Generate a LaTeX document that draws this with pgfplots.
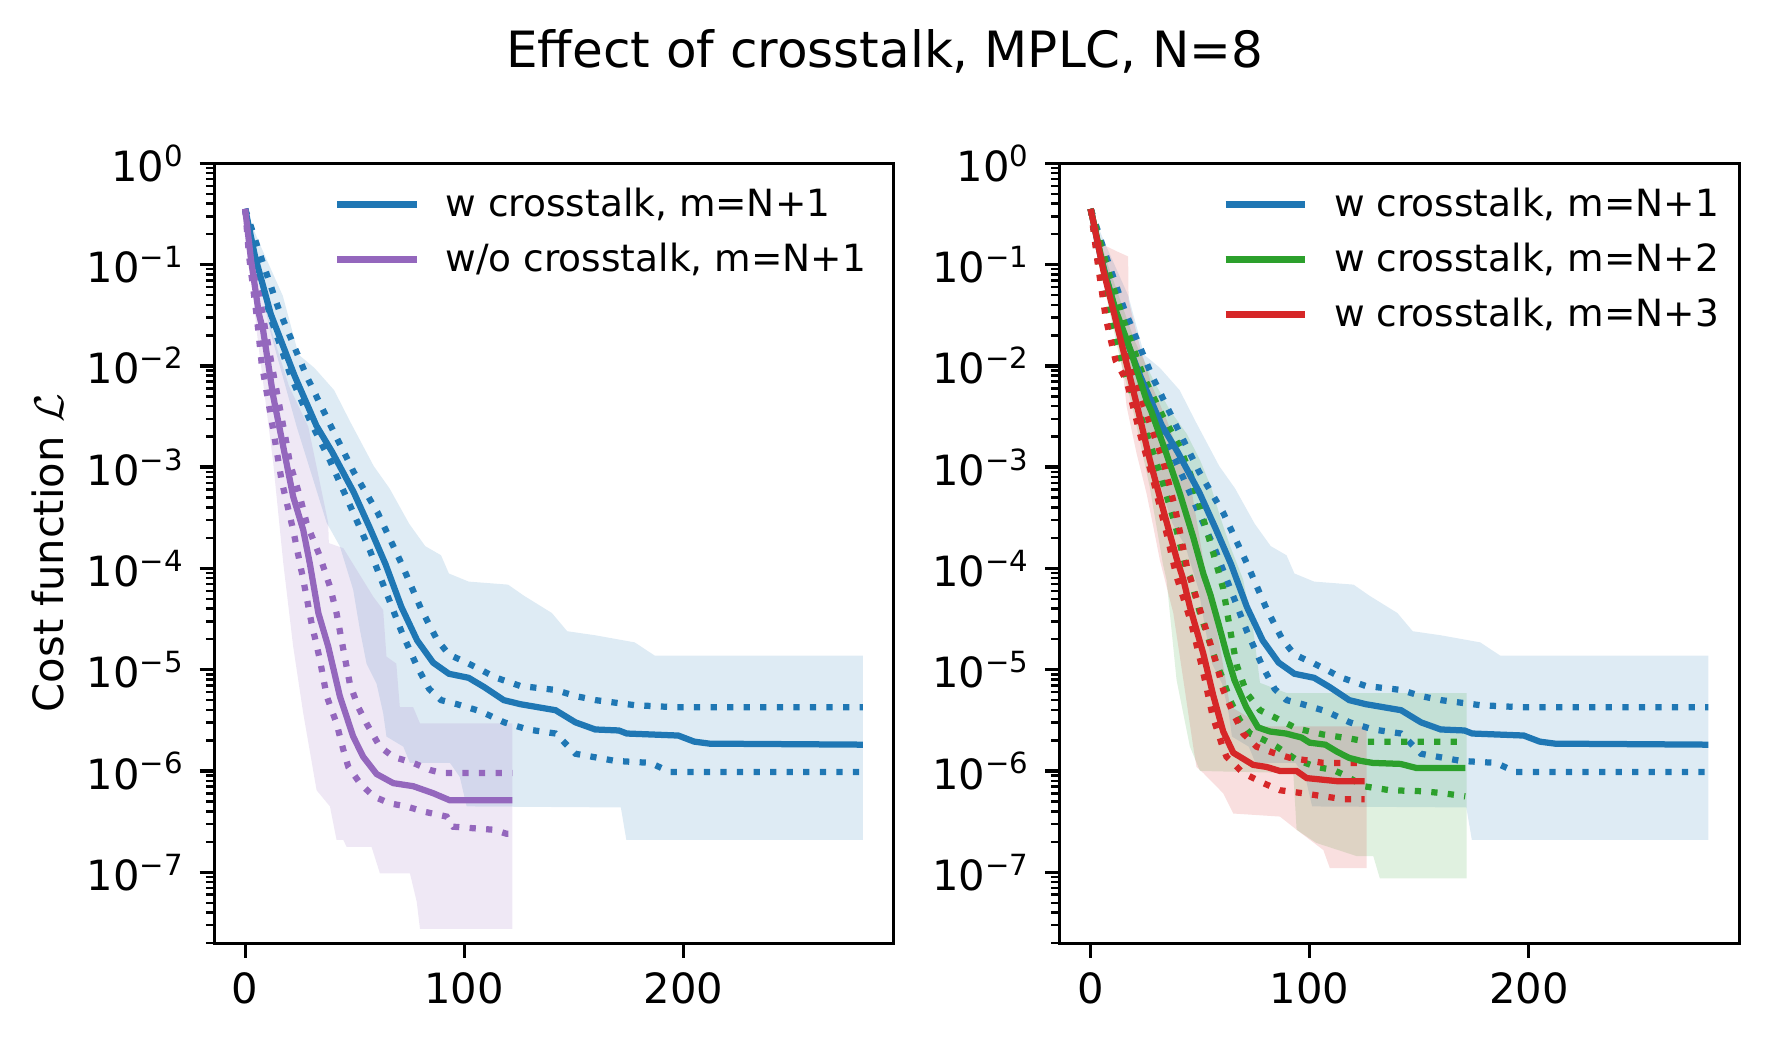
\documentclass[border=0pt]{standalone}
\usepackage{pgfplots}
\pgfplotsset{compat=1.18}
\usepackage{pgfplotstable}
\usepackage{fontspec}
\setmainfont{DejaVu Sans}
\definecolor{cB}{HTML}{1F77B4}
\definecolor{cG}{HTML}{2CA02C}
\definecolor{cR}{HTML}{D62728}
\definecolor{cP}{HTML}{9467BD}
\newcommand{\tfont}{\fontsize{10bp}{12bp}\selectfont}
\newcommand{\lfont}{\fontsize{9bp}{11bp}\selectfont}
\tikzset{
  med/.style={line width=1.5bp},
  dot/.style={line width=1.5bp, dash pattern=on 1.5bp off 2.475bp},
  band/.style={draw=none, fill opacity=0.15},
}

\begin{document}
% ---------- blue: w crosstalk, m=N+1 ----------
\pgfplotstableread{
x l
0 -0.45
4.5 -0.92
11.7 -1.49
22.6 -2.10
32.5 -2.59
39.7 -2.85
49.6 -3.25
56.9 -3.60
64.1 -3.96
71.3 -4.38
78.5 -4.71
85.8 -4.93
93 -5.04
102 -5.08
109 -5.17
118 -5.30
125.5 -5.34
141.7 -5.40
150.8 -5.52
159.8 -5.59
170.6 -5.60
174.2 -5.63
197.7 -5.65
205 -5.71
212 -5.73
282 -5.74
}\bmed
\pgfplotstableread{
x l
0 -0.45
6.3 -0.87
15.3 -1.44
28 -2.10
38.8 -2.58
49.6 -3.05
60.5 -3.45
71.3 -3.95
80.3 -4.40
87.5 -4.70
93 -4.85
102 -4.94
114.7 -5.08
125.5 -5.16
141.7 -5.20
150.8 -5.26
159.8 -5.30
177.8 -5.35
195.9 -5.37
282 -5.37
}\bup
\pgfplotstableread{
x l
0 -0.45
3.6 -0.87
11.7 -1.53
20.8 -2.10
29.8 -2.55
38.8 -2.94
47.9 -3.38
56.9 -3.82
64.1 -4.22
71.3 -4.62
78.5 -4.97
84 -5.19
89.4 -5.30
96.6 -5.34
107.4 -5.41
118.3 -5.52
129 -5.59
141.7 -5.63
150.8 -5.83
168.8 -5.90
185 -5.92
194 -6.01
282 -6.01
}\blo
\pgfplotstableread{
x l
0 -0.45
6.3 -0.78
17.2 -1.31
24.4 -1.89
31.6 -2.02
40.6 -2.24
47.9 -2.55
58.7 -2.99
65.9 -3.21
74.9 -3.56
82.2 -3.78
89.4 -3.87
93 -4.05
102 -4.13
120 -4.16
127.3 -4.27
140 -4.44
147 -4.62
159.8 -4.66
177.8 -4.73
186.9 -4.86
282 -4.86
282 -6.68
174 -6.68
171.5 -6.36
101.1 -6.35
98 -6.06
93.5 -5.92
75.2 -5.92
72.2 -5.76
64.5 -5.66
63 -5.43
60 -5.14
55.4 -4.94
52.4 -4.61
49.3 -4.21
43.2 -3.78
37.2 -3.55
23.5 -2.60
11.3 -1.65
4 -0.90
0 -0.45
}\bband
% ---------- purple: w/o crosstalk, m=N+1 ----------
\pgfplotstableread{
x l
0 -0.45
2.7 -0.96
6.3 -1.49
8.2 -1.65
12.8 -2.30
17.4 -2.80
21.9 -3.29
26.5 -3.62
29.5 -3.95
33.4 -4.44
37.9 -4.77
43.2 -5.26
49.3 -5.66
53.9 -5.86
60 -6.03
67.6 -6.12
76.7 -6.15
85.9 -6.22
93.5 -6.29
122 -6.29
}\pmed
\pgfplotstableread{
x l
0 -0.45
3.6 -0.96
9 -1.62
13.5 -2.15
18.9 -2.77
20.4 -2.96
25 -3.29
28 -3.55
34.1 -3.88
38.7 -4.18
41.7 -4.44
44.8 -4.80
47.8 -5.14
51.6 -5.37
55.4 -5.53
61.5 -5.76
67.6 -5.86
76.7 -5.92
84.3 -5.99
90 -6.02
122 -6.02
}\pup
\pgfplotstableread{
x l
0 -0.45
1.8 -0.92
5.4 -1.53
7.5 -1.97
12.8 -2.63
16.6 -3.13
21.9 -3.62
26.5 -4.11
30.3 -4.54
34.1 -4.90
37.2 -5.26
41.7 -5.53
44.8 -5.79
47.1 -5.96
52.4 -6.12
58.5 -6.25
66.1 -6.32
73.7 -6.35
81.3 -6.40
92 -6.45
95 -6.55
113.3 -6.58
119.4 -6.62
122 -6.62
}\plo
\pgfplotstableread{
x l
0 -0.45
3 -0.80
7 -1.20
12 -1.65
20 -2.20
28.8 -2.60
37.9 -3.55
38.2 -3.75
44.8 -3.80
58.5 -4.28
63 -4.41
64.5 -4.87
69 -4.94
70.6 -5.37
76.7 -5.37
79.8 -5.53
122 -5.53
122 -7.56
79.8 -7.56
78.3 -7.29
75.2 -7.01
61.5 -7.01
57.7 -6.75
46.3 -6.75
44.8 -6.68
41.7 -6.68
38.7 -6.35
32.6 -6.19
26.5 -5.43
21.9 -4.77
17.4 -3.95
12.8 -2.96
5.2 -1.65
0 -0.45
}\pband
% ---------- green: w crosstalk, m=N+2 ----------
\pgfplotstableread{
x l
0 -0.45
6 -1.05
11.4 -1.45
16.4 -1.74
18.7 -1.88
25.5 -2.34
27.7 -2.45
34.6 -2.87
40.7 -3.26
46.8 -3.69
51.4 -4.05
54.8 -4.27
58.4 -4.55
62 -4.84
65.6 -5.10
71 -5.37
76.4 -5.57
81.8 -5.61
89.1 -5.63
96.3 -5.67
99.9 -5.72
107.1 -5.74
112.5 -5.81
117.9 -5.87
123.3 -5.90
128.7 -5.92
141.4 -5.93
148.6 -5.97
171 -5.97
}\gmed
\pgfplotstableread{
x l
0 -0.45
7.8 -1.05
15 -1.55
24 -2.10
33 -2.50
40.7 -2.80
46 -3.10
49.9 -3.40
56 -3.85
60.5 -4.20
63.6 -4.60
66.6 -4.95
71.2 -5.23
77.3 -5.40
84.9 -5.48
94 -5.58
106.2 -5.64
118.4 -5.68
126 -5.71
171 -5.71
}\gup
\pgfplotstableread{
x l
0 -0.45
4.2 -1.05
9.6 -1.62
16.8 -2.15
24 -2.57
31.5 -3.05
36.7 -3.43
39.2 -3.62
43.8 -4.02
45.3 -4.08
49.9 -4.44
57.5 -4.94
60.5 -5.10
63.6 -5.30
68.1 -5.50
72.7 -5.63
78.8 -5.69
84.9 -5.76
94 -5.89
103.1 -5.96
110.8 -5.99
116.8 -6.05
124.5 -6.15
136.6 -6.19
151.8 -6.20
161 -6.22
171 -6.25
}\glo
\pgfplotstableread{
x l
0 -0.45
7 -0.95
20 -1.75
28.6 -2.14
36.2 -2.44
43.8 -2.67
49.9 -2.93
55 -3.20
60 -3.55
64 -3.80
69.6 -4.11
74.2 -4.61
77.3 -5.13
89.4 -5.23
171.6 -5.23
171.6 -7.06
132 -7.06
129 -6.84
121.4 -6.84
103 -6.71
94 -6.58
92.5 -6.02
49.9 -6.00
45.3 -5.76
39.2 -5.10
34.6 -4.11
33 -3.96
27 -3.20
20 -2.50
12 -1.80
5 -1.10
0 -0.45
}\gband
% ---------- red: w crosstalk, m=N+3 ----------
\pgfplotstableread{
x l
0 -0.45
5.7 -1.05
13.3 -1.71
20.9 -2.37
27 -2.93
33.1 -3.42
39.2 -3.90
42.3 -4.11
45.3 -4.38
51.4 -4.84
55.9 -5.25
60.5 -5.61
65.1 -5.82
74.2 -5.94
80.3 -5.96
86.4 -6.00
94 -6.00
98.6 -6.07
112.3 -6.10
125 -6.10
}\rmed
\pgfplotstableread{
x l
0 -0.45
6 -1.02
11.4 -1.50
18.7 -2.05
25.9 -2.50
33.1 -2.94
38.5 -3.40
43.9 -3.98
48.4 -4.30
52.9 -4.62
57.5 -4.95
60.5 -5.20
65.1 -5.43
69.6 -5.63
75.7 -5.76
83.3 -5.82
91 -5.87
106.2 -5.92
125 -5.92
}\rup
\pgfplotstableread{
x l
0 -0.45
3.3 -1.00
6.9 -1.53
11.4 -1.95
16.4 -2.15
22.5 -2.67
28.6 -3.13
34.6 -3.65
39.2 -4.08
45.8 -4.53
51.2 -5.01
55.7 -5.46
60.2 -5.76
62 -5.86
69.6 -6.02
78.8 -6.12
86.4 -6.19
97 -6.22
106.2 -6.25
116 -6.28
125 -6.28
}\rlo
\pgfplotstableread{
x l
0 -0.45
4.3 -0.79
12 -0.87
17.1 -0.92
17.3 -1.35
18.7 -1.48
22.5 -1.81
28 -2.20
35 -2.55
40 -2.85
45.3 -3.13
52.9 -4.11
59 -4.77
63.6 -5.36
78.8 -5.56
126 -5.56
126 -6.96
109.2 -6.96
106.2 -6.78
94 -6.58
86.4 -6.45
65.1 -6.42
60.5 -6.22
51.4 -6.02
48.3 -5.96
46.8 -5.76
42.3 -5.10
37.7 -4.44
31.6 -3.92
28.6 -3.59
25.5 -3.26
20.9 -2.86
16.4 -2.40
14.9 -2.11
10.3 -1.45
5.7 -0.95
0 -0.45
}\rband

\begin{tikzpicture}
\path[use as bounding box] (0,0) rectangle (424.8bp,250.56bp);

\begin{axis}[
    at={(51.43bp,24.17bp)}, anchor=south west,
    scale only axis, width=163.08bp, height=187.2bp,
    xmin=-14.1, xmax=296.1,
    ymode=log, ymin=1.99e-8, ymax=1,
    xtick={0,100,200}, xticklabels={0,100,200},
    ytick={1e-7,1e-6,1e-5,1e-4,1e-3,1e-2,1e-1,1},
    yticklabels={10\textsuperscript{−7},10\textsuperscript{−6},10\textsuperscript{−5},10\textsuperscript{−4},10\textsuperscript{−3},10\textsuperscript{−2},10\textsuperscript{−1},10\textsuperscript{0}},
    minor ytick={2e-8,3e-8,4e-8,5e-8,6e-8,7e-8,8e-8,9e-8,2e-7,3e-7,4e-7,5e-7,6e-7,7e-7,8e-7,9e-7,2e-6,3e-6,4e-6,5e-6,6e-6,7e-6,8e-6,9e-6,2e-5,3e-5,4e-5,5e-5,6e-5,7e-5,8e-5,9e-5,2e-4,3e-4,4e-4,5e-4,6e-4,7e-4,8e-4,9e-4,2e-3,3e-3,4e-3,5e-3,6e-3,7e-3,8e-3,9e-3,2e-2,3e-2,4e-2,5e-2,6e-2,7e-2,8e-2,9e-2,2e-1,3e-1,4e-1,5e-1,6e-1,7e-1,8e-1,9e-1},
    tick pos=left, tick align=outside,
    major tick length=3.5bp, minor tick length=2bp,
    every tick/.style={black, line width=0.8bp},
    minor tick style={line width=0.6bp},
    axis line style={line width=0.8bp},
    tick label style={font=\tfont},
    legend cell align=left,
    legend image code/.code={\draw[#1] (0bp,0bp) -- (19bp,0bp);},
    legend style={draw=none, fill=none, at={(1,1)}, anchor=north east,
      xshift=-6.5bp, yshift=-5bp, font=\lfont, inner sep=0pt, row sep=3.8bp,
      nodes={inner sep=0pt, text height=7.6bp, text depth=1.8bp},
      /tikz/every odd column/.append style={column sep=6.2bp}},
]
\addplot[band, fill=cB, forget plot] table[x=x, y expr={10^(\thisrow{l})}] {\bband};
\addplot[band, fill=cP, forget plot] table[x=x, y expr={10^(\thisrow{l})}] {\pband};
\addplot[dot, cB, forget plot] table[x=x, y expr={10^(\thisrow{l})}] {\bup};
\addplot[dot, cB, forget plot] table[x=x, y expr={10^(\thisrow{l})}] {\blo};
\addplot[dot, cP, forget plot] table[x=x, y expr={10^(\thisrow{l})}] {\pup};
\addplot[dot, cP, forget plot] table[x=x, y expr={10^(\thisrow{l})}] {\plo};
\addplot[med, cB] table[x=x, y expr={10^(\thisrow{l})}] {\bmed};
\addlegendentry{w crosstalk, m=N+1}
\addplot[med, cP] table[x=x, y expr={10^(\thisrow{l})}] {\pmed};
\addlegendentry{w/o crosstalk, m=N+1}
\end{axis}

\begin{axis}[
    at={(254.35bp,24.17bp)}, anchor=south west,
    scale only axis, width=163.08bp, height=187.2bp,
    xmin=-14.1, xmax=296.1,
    ymode=log, ymin=1.99e-8, ymax=1,
    xtick={0,100,200}, xticklabels={0,100,200},
    ytick={1e-7,1e-6,1e-5,1e-4,1e-3,1e-2,1e-1,1},
    yticklabels={10\textsuperscript{−7},10\textsuperscript{−6},10\textsuperscript{−5},10\textsuperscript{−4},10\textsuperscript{−3},10\textsuperscript{−2},10\textsuperscript{−1},10\textsuperscript{0}},
    minor ytick={2e-8,3e-8,4e-8,5e-8,6e-8,7e-8,8e-8,9e-8,2e-7,3e-7,4e-7,5e-7,6e-7,7e-7,8e-7,9e-7,2e-6,3e-6,4e-6,5e-6,6e-6,7e-6,8e-6,9e-6,2e-5,3e-5,4e-5,5e-5,6e-5,7e-5,8e-5,9e-5,2e-4,3e-4,4e-4,5e-4,6e-4,7e-4,8e-4,9e-4,2e-3,3e-3,4e-3,5e-3,6e-3,7e-3,8e-3,9e-3,2e-2,3e-2,4e-2,5e-2,6e-2,7e-2,8e-2,9e-2,2e-1,3e-1,4e-1,5e-1,6e-1,7e-1,8e-1,9e-1},
    tick pos=left, tick align=outside,
    major tick length=3.5bp, minor tick length=2bp,
    every tick/.style={black, line width=0.8bp},
    minor tick style={line width=0.6bp},
    axis line style={line width=0.8bp},
    tick label style={font=\tfont},
    legend cell align=left,
    legend image code/.code={\draw[#1] (0bp,0bp) -- (19bp,0bp);},
    legend style={draw=none, fill=none, at={(1,1)}, anchor=north east,
      xshift=-4.7bp, yshift=-5bp, font=\lfont, inner sep=0pt, row sep=3.8bp,
      nodes={inner sep=0pt, text height=7.6bp, text depth=1.8bp},
      /tikz/every odd column/.append style={column sep=6.3bp}},
]
\addplot[band, fill=cB, forget plot] table[x=x, y expr={10^(\thisrow{l})}] {\bband};
\addplot[band, fill=cG, forget plot] table[x=x, y expr={10^(\thisrow{l})}] {\gband};
\addplot[band, fill=cR, forget plot] table[x=x, y expr={10^(\thisrow{l})}] {\rband};
\addplot[dot, cB, forget plot] table[x=x, y expr={10^(\thisrow{l})}] {\bup};
\addplot[dot, cB, forget plot] table[x=x, y expr={10^(\thisrow{l})}] {\blo};
\addplot[dot, cG, forget plot] table[x=x, y expr={10^(\thisrow{l})}] {\gup};
\addplot[dot, cG, forget plot] table[x=x, y expr={10^(\thisrow{l})}] {\glo};
\addplot[dot, cR, forget plot] table[x=x, y expr={10^(\thisrow{l})}] {\rup};
\addplot[dot, cR, forget plot] table[x=x, y expr={10^(\thisrow{l})}] {\rlo};
\addplot[med, cB] table[x=x, y expr={10^(\thisrow{l})}] {\bmed};
\addlegendentry{w crosstalk, m=N+1}
\addplot[med, cG] table[x=x, y expr={10^(\thisrow{l})}] {\gmed};
\addlegendentry{w crosstalk, m=N+2}
\addplot[med, cR] table[x=x, y expr={10^(\thisrow{l})}] {\rmed};
\addlegendentry{w crosstalk, m=N+3}
\end{axis}

\node[anchor=base, font=\fontsize{12bp}{14bp}\selectfont] at (212.4bp,234.24bp) {Effect of crosstalk, MPLC, N=8};
\node[anchor=base, rotate=90, font=\tfont] at (15.12bp,117.77bp) {Cost function $\mathcal{L}$};
\end{tikzpicture}
\end{document}
